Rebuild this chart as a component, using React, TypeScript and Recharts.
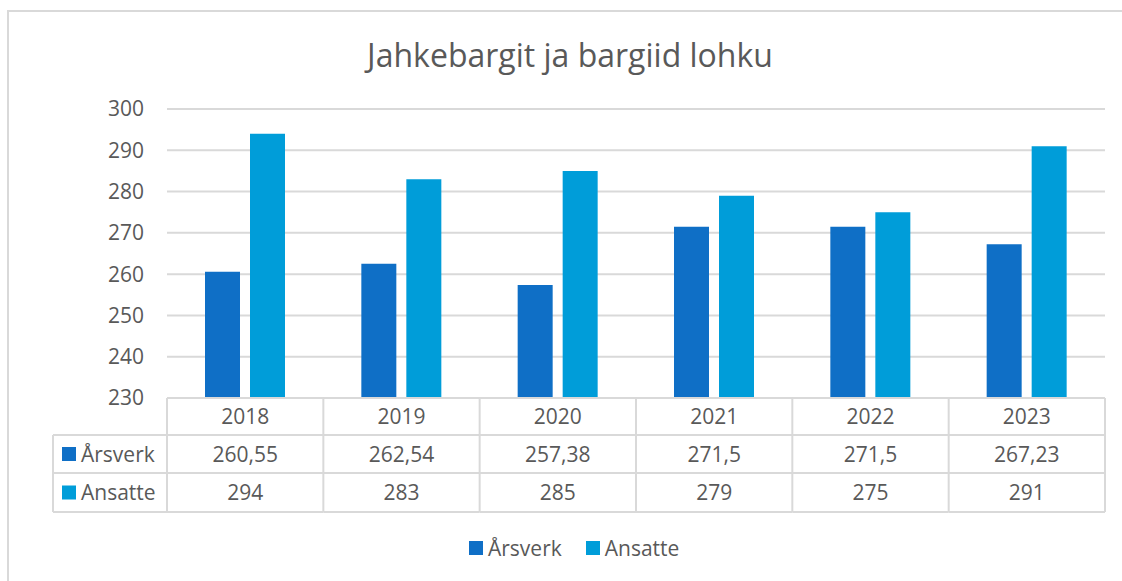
import React from 'react'
import { BarChart, Bar, XAxis, YAxis, CartesianGrid, Legend } from 'recharts'

const years = ['2018', '2019', '2020', '2021', '2022', '2023']
const arsverk = [260.55, 262.54, 257.38, 271.5, 271.5, 267.23]
const ansatte = [294, 283, 285, 279, 275, 291]
const yTicks = [230, 240, 250, 260, 270, 280, 290, 300]
const seriesNames = ['Årsverk', 'Ansatte']
const seriesValues = [arsverk, ansatte]
const colors = ['#0F6FC6', '#009DD9']

const data = years.map((year, i) => ({
  year,
  [seriesNames[0]]: arsverk[i],
  [seriesNames[1]]: ansatte[i],
}))

const FONT = '"Open Sans", sans-serif'
const TEXT = '#595959'
const LINE = '#d9d9d9'
const ROWS = [37, 38, 39]
const LABEL_LEFT = 53
const FS = 21

const fmt = (v: number) => String(v).replace('.', ',')

// x axis tick draws one column of the data table
const TableTick = (props: any) => {
  const { x, y, payload, index, width, visibleTicksCount } = props
  const half = payload?.offset || width / visibleTicksCount / 2
  const left = x - half
  const right = x + half
  const r1 = y + ROWS[0]
  const r2 = r1 + ROWS[1]
  const r3 = r2 + ROWS[2]
  const last = index === visibleTicksCount - 1
  const textProps = { fontFamily: FONT, fontSize: FS, fill: TEXT, textAnchor: 'middle' as const }

  return (
    <g>
      <line x1={left} x2={right} y1={y} y2={y} stroke={LINE} strokeWidth={2} />
      <line x1={left} x2={right} y1={r1} y2={r1} stroke={LINE} strokeWidth={2} />
      <line x1={left} x2={right} y1={r2} y2={r2} stroke={LINE} strokeWidth={2} />
      <line x1={left} x2={right} y1={r3} y2={r3} stroke={LINE} strokeWidth={2} />
      <line x1={left} x2={left} y1={y} y2={r3} stroke={LINE} strokeWidth={2} />
      {last && <line x1={right} x2={right} y1={y} y2={r3} stroke={LINE} strokeWidth={2} />}
      <text x={x} y={y + ROWS[0] / 2 + 7.5} {...textProps}>{payload.value}</text>
      <text x={x} y={r1 + ROWS[1] / 2 + 7.5} {...textProps}>{fmt(seriesValues[0][index])}</text>
      <text x={x} y={r2 + ROWS[2] / 2 + 7.5} {...textProps}>{fmt(seriesValues[1][index])}</text>
      {index === 0 && (
        <g>
          <line x1={LABEL_LEFT} x2={left} y1={r1} y2={r1} stroke={LINE} strokeWidth={2} />
          <line x1={LABEL_LEFT} x2={left} y1={r2} y2={r2} stroke={LINE} strokeWidth={2} />
          <line x1={LABEL_LEFT} x2={left} y1={r3} y2={r3} stroke={LINE} strokeWidth={2} />
          <line x1={LABEL_LEFT} x2={LABEL_LEFT} y1={r1} y2={r3} stroke={LINE} strokeWidth={2} />
          <rect x={62} y={r1 + ROWS[1] / 2 - 7} width={14} height={14} fill={colors[0]} />
          <text x={81} y={r1 + ROWS[1] / 2 + 7.5} {...textProps} textAnchor="start">{seriesNames[0]}</text>
          <rect x={62} y={r2 + ROWS[2] / 2 - 7} width={14} height={14} fill={colors[1]} />
          <text x={81} y={r2 + ROWS[2] / 2 + 7.5} {...textProps} textAnchor="start">{seriesNames[1]}</text>
        </g>
      )}
    </g>
  )
}

const LegendContent = (props: any) => {
  const items = [...(props.payload || [])].sort(
    (a: any, b: any) => seriesNames.indexOf(a.value) - seriesNames.indexOf(b.value)
  )
  return (
    <div style={{ display: 'flex', alignItems: 'center', height: 24, fontFamily: FONT, fontSize: FS, color: TEXT }}>
      {items.map((entry: any) => (
        <div key={entry.value} style={{ display: 'flex', alignItems: 'center', marginRight: 24 }}>
          <span style={{ display: 'inline-block', width: 14, height: 14, background: entry.color, marginRight: 5 }} />
          <span>{entry.value}</span>
        </div>
      ))}
    </div>
  )
}

export default function App() {
  return (
    <div>
      <div
        style={{
          position: 'absolute',
          left: 7,
          top: 10,
          right: 0,
          bottom: 0,
          borderTop: `2px solid ${LINE}`,
          borderLeft: `2px solid ${LINE}`,
        }}
      />
      <div
        style={{
          position: 'absolute',
          left: 20,
          top: 33,
          width: 1100,
          textAlign: 'center',
          fontFamily: FONT,
          fontSize: 32,
          lineHeight: 'normal',
          color: TEXT,
        }}
      >
        Jahkebargit ja bargiid lohku
      </div>
      <div style={{ position: 'absolute', left: 0, top: 0 }}>
        <BarChart
          width={1122}
          height={581}
          data={data}
          margin={{ top: 109, right: 17, bottom: 69, left: 0 }}
          barSize={35}
          barGap={10}
        >
          <CartesianGrid vertical={false} stroke={LINE} strokeWidth={2} />
          <XAxis
            dataKey="year"
            height={114}
            axisLine={false}
            tickLine={false}
            tickSize={0}
            tickMargin={0}
            interval={0}
            tick={<TableTick />}
          />
          <YAxis
            width={167}
            domain={[230, 300]}
            ticks={yTicks}
            axisLine={false}
            tickLine={false}
            tickSize={0}
            tickMargin={23}
            tick={{ fill: TEXT, fontSize: FS, fontFamily: FONT }}
          />
          <Legend
            layout="horizontal"
            verticalAlign="middle"
            align="center"
            wrapperStyle={{ top: 536, left: 469, width: 300 }}
            content={<LegendContent />}
          />
          {seriesNames.map((name, i) => (
            <Bar key={name} dataKey={name} fill={colors[i]} isAnimationActive={false} />
          ))}
        </BarChart>
      </div>
    </div>
  )
}
